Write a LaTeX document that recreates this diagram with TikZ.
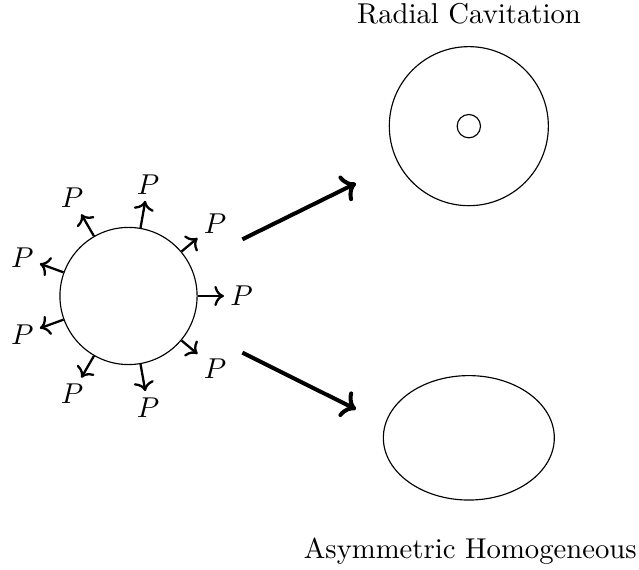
\documentclass[tikz,border=0pt]{standalone}
\usepackage{tikz}
\usetikzlibrary{arrows.meta,positioning,calc,shapes.geometric}

\begin{document}
\begin{tikzpicture}[
  shell/.style={
    draw,
    circle,
    inner sep=0pt
  },
  load/.style={inner sep=2pt},
  force/.style={->,thick},
  flow/.style={->,line width=1.4pt},
  caption/.style={anchor=base,font=\normalsize}
]
\useasboundingbox (-1.574,-3.344) rectangle (6.252,3.625);

% loaded body
\node[shell,minimum size=1.68cm] (ball) at (0,0) {};
\foreach \a in {0,40,...,320}
  \node[load] (p\a) at (\a:1.384) {$P$};
\foreach \a in {0,40,...,320}
  \draw[force] (ball.\a) -- (p\a);

% outcomes
\node[shell,minimum size=1.948cm] (cav) at (4.168,2.08) {};
\node[shell,minimum size=.286cm] (hole) at (cav.center) {};
\node[draw,ellipse,inner sep=0pt,
  minimum width=2.094cm,minimum height=1.524cm]
  (ell) at (4.168,-1.737) {};

\node[caption] (radtxt) at (4.17,3.343) {Radial Cavitation};
\node[caption] (asytxt) at (4.186,-3.209) {Asymmetric Homogeneous};

\coordinate (u0) at (1.394,.694);
\coordinate (u1) at (2.786,1.38);
\coordinate (d0) at (1.394,-.694);
\coordinate (d1) at (2.786,-1.388);
\draw[flow] (u0) -- (u1);
\draw[flow] (d0) -- (d1);
\end{tikzpicture}
\end{document}
